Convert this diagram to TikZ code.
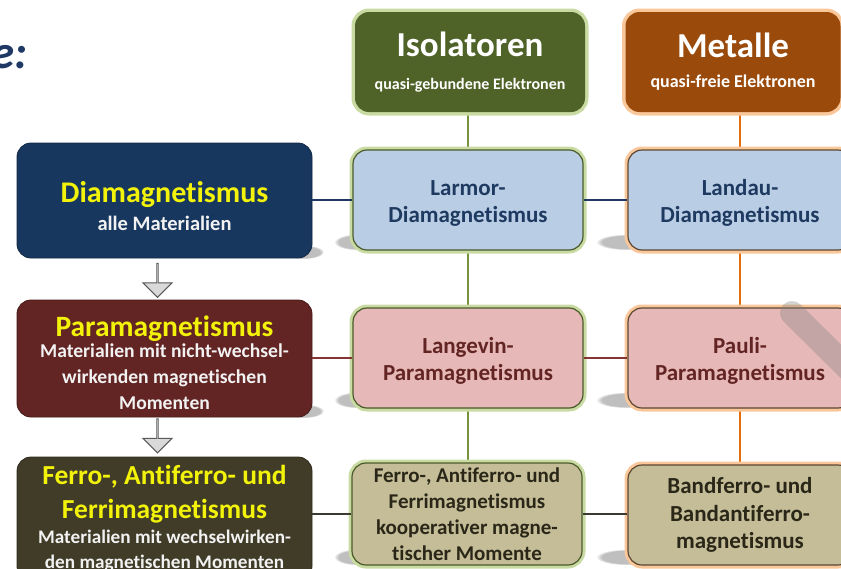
\documentclass[tikz,border=0pt]{standalone}
\usepackage{fontspec}
\setmainfont{Carlito}[Ligatures=NoCommon]
\usetikzlibrary{shapes.arrows,fadings,backgrounds}
\definecolor{isofill}{HTML}{4F6228}
\definecolor{isoglowc}{HTML}{C9DBA3}
\definecolor{metfill}{HTML}{9A4A0B}
\definecolor{metglowc}{HTML}{FAC79A}
\definecolor{diafill}{HTML}{18375F}
\definecolor{parfill}{HTML}{632523}
\definecolor{ferfill}{HTML}{403C27}
\definecolor{blueL}{HTML}{B9CDE5}
\definecolor{redL}{HTML}{E6B9B8}
\definecolor{tanL}{HTML}{C4BD97}
\definecolor{blueT}{HTML}{1F3A60}
\definecolor{redT}{HTML}{632523}
\definecolor{tanT}{HTML}{2A2718}
\definecolor{hlyellow}{HTML}{F2F20A}
\definecolor{subwhite}{HTML}{F2F2F2}
\definecolor{gborder}{HTML}{4A5A2A}
\definecolor{oborder}{HTML}{5C4632}
\definecolor{bline}{HTML}{1F3864}
\definecolor{rline}{HTML}{843533}
\definecolor{fline}{HTML}{3A3A30}
\definecolor{vgreen}{HTML}{77933C}
\definecolor{vorange}{HTML}{E46C0A}
\definecolor{titleblue}{HTML}{1F3864}
\newcommand{\fsz}[2]{\fontsize{#1}{#2}\selectfont\lineskiplimit=-100pt\relax}
\begin{document}
\begin{tikzpicture}[x=1pt,y=-1pt,
  every node/.style={inner sep=0pt, align=center},
  rbox/.style={rounded corners=14pt},
  gglow/.style={preaction={draw=isoglowc, line width=7pt}},
  oglow/.style={preaction={draw=metglowc, line width=7pt}},
  leftbox/.style={rbox, draw=#1!70!black, line width=0.8pt, fill=#1, minimum width=295, text=subwhite},
  midbox/.style={rbox, gglow, draw=gborder, line width=1.2pt, minimum width=230, minimum height=100},
  rightbox/.style={rbox, oglow, draw=oborder, line width=1.2pt, minimum width=224, minimum height=100},
  conn/.style={line width=2.6pt},
  vconn/.style={line width=2pt},
  fatarrow/.style={single arrow, draw=black!65, fill=black!15, line width=0.9pt,
    minimum width=29, single arrow head extend=8.5, minimum height=34, rotate=-90},
  smudge/.style={fill=black, opacity=0.25, path fading=circle with fuzzy edge 20 percent}
]
\useasboundingbox (0,0) rectangle (841,568);
\clip (0,0) rectangle (841,568);

% soft shadows
\foreach \yy in {242,400,557}{
  \fill[smudge] (356,\yy) ellipse (22 and 8);
  \fill[smudge] (626,\yy) ellipse (30 and 8);
}
\fill[smudge] (304,252) ellipse (20 and 7);
\fill[smudge] (304,411) ellipse (20 and 7);

% title fragment
\node[anchor=base east, text=titleblue, font=\bfseries\itshape\fontsize{47}{50}\selectfont] (title) at (28,68) {e:};

% header boxes
\node[rbox, gglow, fill=isofill, text=white, minimum width=230, minimum height=100,
      font=\bfseries\fsz{16}{33}] (iso) at (470,62)
  {{\fontsize{35}{35}\selectfont Isolatoren}\\quasi-gebundene Elektronen};
\node[rbox, oglow, fill=metfill, text=white, minimum width=215, minimum height=100,
      font=\bfseries\fsz{18}{30}] (met) at (733,62)
  {{\fontsize{35}{35}\selectfont Metalle}\\quasi-freie Elektronen};

% left column
\node[leftbox=diafill, minimum height=115, font=\bfseries\fsz{20.5}{28}] (dia) at (164.5,200.5)
  {{\rule{0pt}{33pt}\fontsize{30}{30}\selectfont\color{hlyellow}Diamagnetismus}\\alle Materialien};
\node[leftbox=parfill, minimum height=117, font=\bfseries\fsz{19.6}{26}] (par) at (164.5,358.5)
  {{\rule{0pt}{29pt}\fontsize{29.5}{30}\selectfont\color{hlyellow}Paramagnetismus}\\[-5pt]Materialien mit nicht-wechsel-\\wirkenden magnetischen\\Momenten};
\node[leftbox=ferfill, minimum height=123, font=\bfseries\fsz{19.2}{25}] (fer) at (164.5,518.5)
  {{\fontsize{27.5}{30}\selectfont\color{hlyellow}Ferro-, Antiferro- und}\\[9pt]{\fontsize{27.5}{30}\selectfont\color{hlyellow}Ferrimagnetismus}\\Materialien mit wechselwirken-\\den magnetischen Momenten};

% middle column
\node[midbox, fill=blueL, text=blueT, font=\bfseries\fsz{23}{27}] (lar) at (468,200)
  {\rule{0pt}{22pt}Larmor-\\Diamagnetismus};
\node[midbox, fill=redL, text=redT, font=\bfseries\fsz{23}{27}] (lgv) at (468,358)
  {\rule{0pt}{22pt}Langevin-\\Paramagnetismus};
\node[midbox, fill=tanL, text=tanT, minimum height=102, font=\bfseries\fsz{21}{26}] (fmi) at (467,514)
  {Ferro-, Antiferro- und\\Ferrimagnetismus\\kooperativer magne-\\tischer Momente};

% right column
\node[rightbox, fill=blueL, text=blueT, font=\bfseries\fsz{23}{27}] (lan) at (740,200)
  {\rule{0pt}{22pt}Landau-\\Diamagnetismus};
\node[rightbox, fill=redL, text=redT, font=\bfseries\fsz{23}{27}] (pau) at (740,358)
  {\rule{0pt}{22pt}Pauli-\\Paramagnetismus};
\node[rightbox, fill=tanL, text=tanT, font=\bfseries\fsz{23}{27.5}] (bnd) at (740,515)
  {Bandferro- und\\Bandantiferro-\\magnetismus};

% arrows between left boxes
\node[fatarrow] (arr1) at (157.5,280) {};
\node[fatarrow] (arr2) at (157.5,435.5) {};

% connectors
\begin{scope}[on background layer]
\draw[vconn, vgreen] (lar.north) -- (lar.north |- iso.south);
\draw[vconn, vgreen] (lar.south) -- (lar.south |- lgv.north);
\draw[vconn, vgreen] (lgv.south) -- (lgv.south |- fmi.north);
\draw[vconn, vorange] (lan.north) -- (lan.north |- met.south);
\draw[vconn, vorange] (lan.south) -- (lan.south |- pau.north);
\draw[vconn, vorange] (pau.south) -- (pau.south |- bnd.north);
\end{scope}
\draw[conn, bline] (dia.east |- lar.west) -- (lar.west);
\draw[conn, bline] (lar.east) -- (lan.west);
\draw[conn, rline] (par.east |- lgv.west) -- (lgv.west);
\draw[conn, rline] (lgv.east) -- (pau.west);
\draw[conn, fline] (fer.east |- fmi.west) -- (fmi.west);
\draw[conn, fline] (fmi.east) -- (bnd.west |- fmi.east);

% watermark stroke
\draw[line width=24pt, line cap=round, black!50, opacity=0.35] (792,313) -- (880,400);
\end{tikzpicture}
\end{document}
